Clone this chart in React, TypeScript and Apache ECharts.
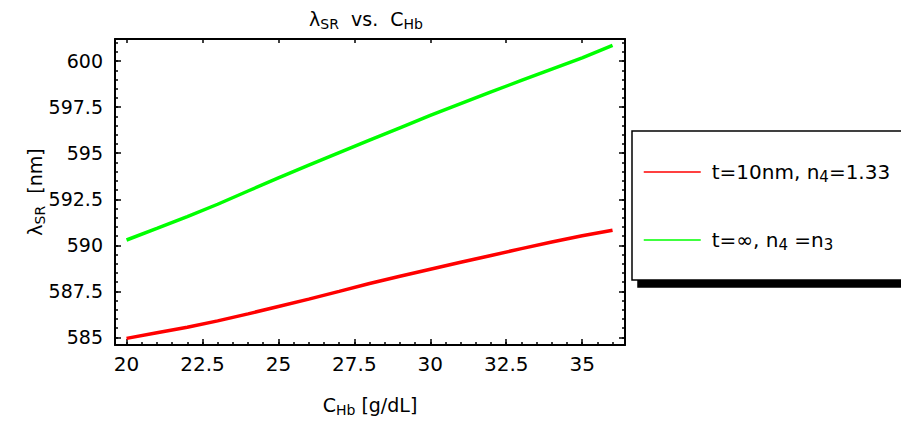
import React, { useEffect, useRef } from "react";
import * as echarts from "echarts";

// ---- data ----
const X_VALUES = [20, 21, 22, 23, 24, 25, 26, 27, 28, 29, 30, 31, 32, 33, 34, 35, 36];
const RED_VALUES = [584.95, 585.25, 585.55, 585.9, 586.28, 586.68, 587.08, 587.5, 587.93, 588.32, 588.7, 589.08, 589.45, 589.82, 590.18, 590.52, 590.82];
const GREEN_VALUES = [590.29, 590.92, 591.56, 592.23, 592.95, 593.66, 594.35, 595.03, 595.71, 596.38, 597.05, 597.69, 598.33, 598.95, 599.57, 600.18, 600.85];

const SERIES_NAMES = ["red", "green"];
const X_MAJOR = [20, 22.5, 25, 27.5, 30, 32.5, 35];
const Y_MAJOR = [585, 587.5, 590, 592.5, 595, 597.5, 600];
const X_MIN = 19.62;
const X_MAX = 36.41;
const Y_MIN = 584.59;
const Y_MAX = 601.2;

const range = (a: number, b: number, step: number) => {
  const out: number[] = [];
  for (let v = a; v <= b + 1e-9; v += step) out.push(Math.round(v * 100) / 100);
  return out;
};
const X_MINOR = range(20, 36, 0.5);
const Y_MINOR = range(585, 601, 0.5);

const FONT = "DejaVu Sans";

export default function App() {
  const ref = useRef<HTMLDivElement>(null);
  useEffect(() => {
    if (!ref.current) return;
    const chart = echarts.init(ref.current, null, { renderer: "svg" });
    const fmt = (v: number) => String(v);
    const lineColor = "#000";
    const baseX = {
      type: "value",
      min: X_MIN,
      max: X_MAX,
      splitLine: { show: false },
    };
    const baseY = {
      type: "value",
      min: Y_MIN,
      max: Y_MAX,
      splitLine: { show: false },
    };
    const rich = {
      m: { fontSize: 19, fontFamily: FONT, color: "#000", lineHeight: 24 },
      s: { fontSize: 14, fontFamily: FONT, color: "#000", verticalAlign: "bottom", lineHeight: 24 },
    };
    chart.setOption({
      animation: false,
      backgroundColor: "#fff",
      grid: { left: 115, top: 39, width: 510, height: 314, containLabel: false },
      graphic: [
        {
          type: "text",
          x: 366,
          y: 19,
          style: {
            text: "{m|λ}{s|SR}{m|  vs.  C}{s|Hb}",
            align: "center",
            verticalAlign: "middle",
            rich: {
              m: { fontSize: 19, fontFamily: FONT, fill: "#000", lineHeight: 24 },
              s: { fontSize: 14, fontFamily: FONT, fill: "#000", verticalAlign: "bottom", lineHeight: 24 },
            },
          },
        },
      ],
      xAxis: [
        {
          ...baseX,
          position: "bottom",
          axisLine: { show: true, onZero: false, lineStyle: { color: lineColor, width: 2 } },
          axisTick: { show: true, inside: true, length: 6, customValues: X_MAJOR, lineStyle: { color: lineColor, width: 1.5 } },
          axisLabel: { show: true, customValues: X_MAJOR, formatter: fmt, fontSize: 20, fontFamily: FONT, color: "#000", margin: 9 },
          name: "{m|C}{s|Hb}{m| [g/dL]}",
          nameLocation: "middle",
          nameGap: 48,
          nameMoveOverlap: false,
          nameTextStyle: { rich },
        },
        {
          ...baseX,
          position: "bottom",
          axisLine: { show: false, onZero: false },
          axisTick: { show: true, inside: true, length: 3, customValues: X_MINOR, lineStyle: { color: lineColor, width: 1.5 } },
          axisLabel: { show: false },
        },
        {
          ...baseX,
          position: "top",
          axisLine: { show: true, onZero: false, lineStyle: { color: lineColor, width: 2 } },
          axisTick: { show: true, inside: true, length: 4, customValues: X_MAJOR, lineStyle: { color: lineColor, width: 1.5 } },
          axisLabel: { show: false },
        },
      ],
      yAxis: [
        {
          ...baseY,
          position: "left",
          axisLine: { show: true, onZero: false, lineStyle: { color: lineColor, width: 2 } },
          axisTick: { show: true, inside: true, length: 6, customValues: Y_MAJOR, lineStyle: { color: lineColor, width: 1.5 } },
          axisLabel: { show: true, customValues: Y_MAJOR, formatter: fmt, fontSize: 19, fontFamily: FONT, color: "#000", margin: 12 },
          name: "{m|λ}{s|SR}{m|  [nm]}",
          nameLocation: "middle",
          nameGap: 68,
          nameRotate: 90,
          nameMoveOverlap: false,
          nameTextStyle: { rich },
        },
        {
          ...baseY,
          position: "left",
          axisLine: { show: false, onZero: false },
          axisTick: { show: true, inside: true, length: 3, customValues: Y_MINOR, lineStyle: { color: lineColor, width: 1.5 } },
          axisLabel: { show: false },
        },
        {
          ...baseY,
          position: "right",
          axisLine: { show: true, onZero: false, lineStyle: { color: lineColor, width: 2 } },
          axisTick: { show: true, inside: true, length: 6, customValues: Y_MAJOR, lineStyle: { color: lineColor, width: 1.5 } },
          axisLabel: { show: false },
        },
        {
          ...baseY,
          position: "right",
          axisLine: { show: false, onZero: false },
          axisTick: { show: true, inside: true, length: 3, customValues: Y_MINOR, lineStyle: { color: lineColor, width: 1.5 } },
          axisLabel: { show: false },
        },
      ],
      legend: {
        show: true,
        orient: "vertical",
        left: 632,
        top: 131,
        data: SERIES_NAMES,
        itemWidth: 57,
        itemHeight: 14,
        itemGap: 46,
        padding: [31, 140, 28, 11],
        backgroundColor: "#fff",
        borderColor: "#000",
        borderWidth: 1.5,
        shadowColor: "#000",
        shadowBlur: 0,
        shadowOffsetX: 6,
        shadowOffsetY: 7,
        lineStyle: { width: 1.5 },
        itemStyle: { opacity: 0 },
        formatter: (name: string) =>
          name === "red" ? "{m|t=10nm, n}{s|4}{m|=1.33}" : "{m|t=∞, n}{s|4}{m| =n}{s|3}",
        textStyle: {
          color: "#000",
          fontSize: 20,
          fontFamily: FONT,
          padding: [0, 0, 0, 6],
          rich: {
            m: { fontSize: 20, fontFamily: FONT, color: "#000", lineHeight: 24 },
            s: { fontSize: 15, fontFamily: FONT, color: "#000", verticalAlign: "bottom", lineHeight: 24 },
          },
        },
      },
      series: [
        {
          name: "red",
          type: "line",
          xAxisIndex: 0,
          yAxisIndex: 0,
          symbol: "none",
          showSymbol: false,
          smooth: false,
          color: "#ff0000",
          lineStyle: { color: "#ff0000", width: 3.5 },
          data: X_VALUES.map((x, i) => [x, RED_VALUES[i]]),
        },
        {
          name: "green",
          type: "line",
          xAxisIndex: 0,
          yAxisIndex: 0,
          symbol: "none",
          showSymbol: false,
          smooth: false,
          color: "#00ff00",
          lineStyle: { color: "#00ff00", width: 3.5 },
          data: X_VALUES.map((x, i) => [x, GREEN_VALUES[i]]),
        },
      ],
    });
    return () => chart.dispose();
  }, []);
  return (
    <div
      ref={ref}
      style={{ position: "fixed", left: 0, top: 0, width: 901, height: 422, background: "#fff" }}
    />
  );
}
